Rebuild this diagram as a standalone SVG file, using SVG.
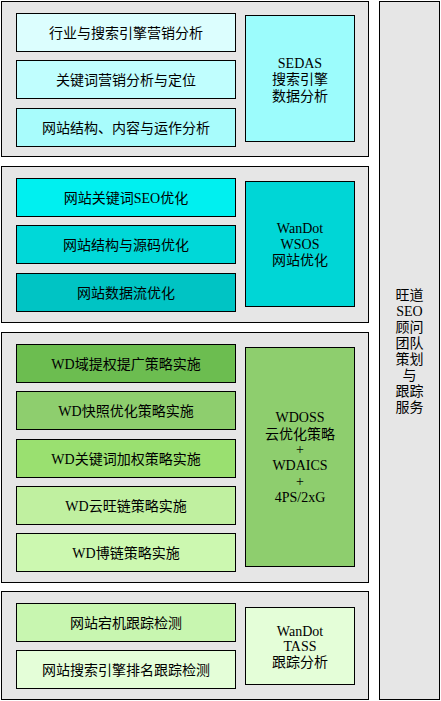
<svg xmlns="http://www.w3.org/2000/svg" width="441" height="701" viewBox="0 0 441 701">
<style>
.sec{fill:#e6e6e6;stroke:#000;stroke-width:1}
.b{stroke:#000;stroke-width:1}
text{font-family:"Liberation Serif","Noto Sans CJK SC",serif;font-size:14px;fill:#000;text-anchor:middle}
</style>
<rect width="441" height="701" fill="#fff"/>
<g id="side"><rect class="sec" x="379.5" y="1.5" width="60" height="698"/>
<text x="409.5" y="300">旺道</text><text x="409.5" y="316">SEO</text><text x="409.5" y="332">顾问</text><text x="409.5" y="348">团队</text><text x="409.5" y="364">策划</text><text x="409.5" y="380">与</text><text x="409.5" y="396">跟踪</text><text x="409.5" y="412">服务</text></g>
<g id="sec1"><rect class="sec" x="1.5" y="1.5" width="367" height="155"/></g>
<g id="s1a"><rect class="b" fill="#dcfefe" x="16.5" y="13.5" width="219" height="38"/><text x="126" y="37.5">行业与搜索引擎营销分析</text></g>
<g id="s1b"><rect class="b" fill="#c0fefe" x="16.5" y="60.5" width="219" height="38"/><text x="126" y="84.5">关键词营销分析与定位</text></g>
<g id="s1c"><rect class="b" fill="#a8fcfc" x="16.5" y="108.5" width="219" height="38"/><text x="126" y="132.5">网站结构、内容与运作分析</text></g>
<g id="s1r"><rect class="b" fill="#9cfcfc" x="245.5" y="15.5" width="109" height="126"/><text x="300" y="67.5">SEDAS</text><text x="300" y="84">搜索引擎</text><text x="300" y="101">数据分析</text></g>
<g id="sec2"><rect class="sec" x="1.5" y="166.5" width="367" height="156"/></g>
<g id="s2a"><rect class="b" fill="#00f0f0" x="16.5" y="178.5" width="219" height="38"/><text x="126" y="202.5">网站关键词SEO优化</text></g>
<g id="s2b"><rect class="b" fill="#00d8d8" x="16.5" y="225.5" width="219" height="38"/><text x="126" y="249.5">网站结构与源码优化</text></g>
<g id="s2c"><rect class="b" fill="#00c4c4" x="16.5" y="273.5" width="219" height="38"/><text x="126" y="297.5">网站数据流优化</text></g>
<g id="s2r"><rect class="b" fill="#00d6d6" x="245.5" y="181.5" width="109" height="125"/><text x="300" y="233">WanDot</text><text x="300" y="249">WSOS</text><text x="300" y="265">网站优化</text></g>
<g id="sec3"><rect class="sec" x="1.5" y="332.5" width="367" height="250"/></g>
<g id="s3a"><rect class="b" fill="#6cbd50" x="16.5" y="344.5" width="219" height="38"/><text x="126" y="368.5">WD域提权提广策略实施</text></g>
<g id="s3b"><rect class="b" fill="#8ece6e" x="16.5" y="391.5" width="219" height="38"/><text x="126" y="415.5">WD快照优化策略实施</text></g>
<g id="s3c"><rect class="b" fill="#9ae070" x="16.5" y="439.5" width="219" height="38"/><text x="126" y="463.5">WD关键词加权策略实施</text></g>
<g id="s3d"><rect class="b" fill="#c0f0a0" x="16.5" y="486.5" width="219" height="38"/><text x="126" y="510.5">WD云旺链策略实施</text></g>
<g id="s3e"><rect class="b" fill="#ccf8b0" x="16.5" y="533.5" width="219" height="38"/><text x="126" y="557.5">WD博链策略实施</text></g>
<g id="s3r"><rect class="b" fill="#8ece6e" x="245.5" y="347.5" width="109" height="219"/><text x="300" y="422">WDOSS</text><text x="300" y="439">云优化策略</text><text x="300" y="454">+</text><text x="300" y="470">WDAICS</text><text x="300" y="486">+</text><text x="300" y="501.5">4PS/2xG</text></g>
<g id="sec4"><rect class="sec" x="1.5" y="591.5" width="367" height="108"/></g>
<g id="s4a"><rect class="b" fill="#c8f6b0" x="16.5" y="603.5" width="219" height="38"/><text x="126" y="627.5">网站宕机跟踪检测</text></g>
<g id="s4b"><rect class="b" fill="#e4fed8" x="16.5" y="650.5" width="219" height="38"/><text x="126" y="674.5">网站搜索引擎排名跟踪检测</text></g>
<g id="s4r"><rect class="b" fill="#e4fed8" x="245.5" y="607.5" width="109" height="77"/><text x="300" y="635.5">WanDot</text><text x="300" y="651">TASS</text><text x="300" y="667">跟踪分析</text></g>
<g id="connectors"></g>
</svg>
